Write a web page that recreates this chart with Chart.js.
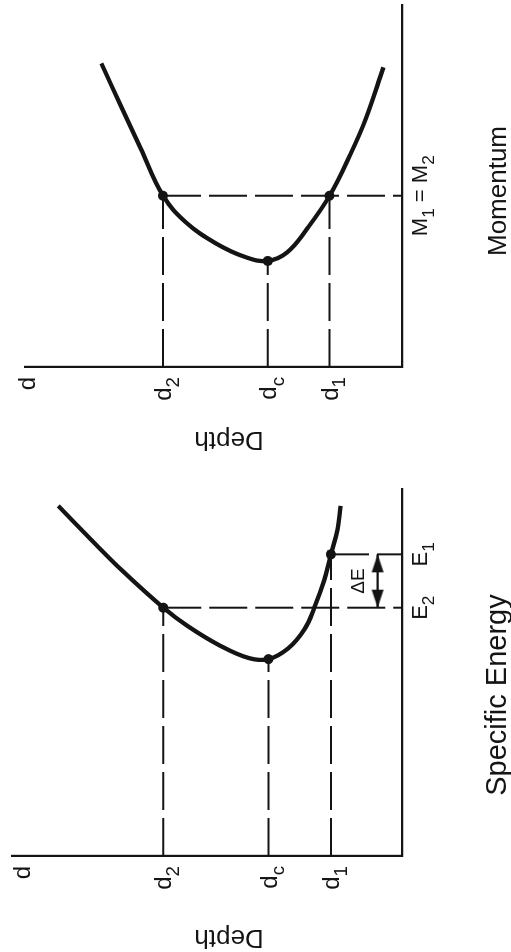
<!DOCTYPE html>
<html>
<head>
<meta charset="utf-8">
<script src="https://cdn.jsdelivr.net/npm/chart.js@4/dist/chart.umd.min.js"></script>
<style>
  html, body { margin: 0; padding: 0; background: #fff; overflow: hidden; }
  /* the figure is laid out upright, then turned a quarter turn counter-clockwise */
  #wrap {
    position: absolute; left: 0; top: 0; width: 952px; height: 511px;
    transform-origin: 0 0; transform: translate(0px, 952px) rotate(-90deg);
  }
  #energyChart { position: absolute; left: 0; top: 0; }
  #momentumChart { position: absolute; left: 476px; top: 0; }
</style>
</head>
<body>
<div id="wrap">
  <canvas id="energyChart" width="476" height="511"></canvas>
  <canvas id="momentumChart" width="476" height="511"></canvas>
</div>
<script>
// specific energy curve (depth, energy)
const energyDepth = [35.3, 32.0, 28.7, 24.5, 22.0, 18.7, 15.7, 13.7, 11.7, 10.0, 9.0, 8.0, 7.3, 6.6, 6.3];
const energyValues = [36.1, 32.7, 29.4, 25.6, 23.7, 21.7, 20.4, 20.3, 21.4, 23.4, 25.6, 28.4, 31.1, 33.7, 36.1];
const energyMarks = { d1: 7.3, dc: 13.7, d2: 24.5, E1: 31.1, Ec: 20.3, E2: 25.6 };
const energyDepthMax = 40;
const energyMax = 37.9;

// momentum curve (depth, momentum)
const momentumDepth = [30.7, 28.7, 26.7, 24.4, 22.0, 19.0, 16.0, 13.7, 11.7, 9.7, 7.4, 5.3, 3.7, 1.9];
const momentumValues = [31.2, 26.8, 22.5, 17.6, 14.8, 12.7, 11.3, 10.9, 11.8, 14.2, 17.6, 21.8, 25.5, 30.8];
const momentumMarks = { d1: 7.4, dc: 13.7, d2: 24.4, M: 17.6, Mc: 10.9 };
const momentumDepthMax = 38.5;
const momentumMax = 37.2;

// tick labels ("_" marks the next character as a subscript)
const energyDepthTicks = [[39, "d"], [energyMarks.d2, "d_2"], [energyMarks.dc, "d_c"], [energyMarks.d1, "d_1"]];
const energyTicks = [[energyMarks.E2, "E_2"], [energyMarks.E1, "E_1"]];
const momentumDepthTicks = [[38.3, "d"], [momentumMarks.d2, "d_2"], [momentumMarks.dc, "d_c"], [momentumMarks.d1, "d_1"]];
const momentumTicks = [[momentumMarks.M, "M_1 = M_2"]];
const deltaDepth = 2.5;

const INK = "#141414";
const FONT = "'Liberation Sans', Arial, Helvetica, sans-serif";
const DASH = [38, 8];

function pts(xs, ys) {
  return xs.map((x, i) => ({ x: x, y: ys[i] }));
}

function dashed(a, b) {
  return {
    data: [a, b], showLine: true, borderColor: INK, borderWidth: 2,
    borderDash: DASH, pointRadius: 0, tension: 0
  };
}

function dots(list) {
  return {
    data: list, showLine: false, pointRadius: 5,
    pointBackgroundColor: INK, pointBorderColor: INK, pointBorderWidth: 0
  };
}

// arrow head with its tip at the centre of the image, pointing up
function arrowHead() {
  const c = document.createElement("canvas");
  c.width = 40; c.height = 40;
  const g = c.getContext("2d");
  g.fillStyle = INK;
  g.beginPath();
  g.moveTo(20, 20);
  g.lineTo(14, 38);
  g.lineTo(26, 38);
  g.closePath();
  g.fill();
  return c;
}

function segs(str) {
  const out = [];
  let i = 0;
  while (i < str.length) {
    if (str[i] === "_") { out.push([str[i + 1], true]); i += 2; }
    else {
      let j = i;
      while (j < str.length && str[j] !== "_") j++;
      out.push([str.slice(i, j), false]);
      i = j;
    }
  }
  return out;
}

function drawSub(ctx, text, x, base, size, align) {
  const parts = segs(text);
  const sub = size * 0.78;
  let w = 0;
  parts.forEach(p => {
    ctx.font = (p[1] ? sub : size) + "px " + FONT;
    w += ctx.measureText(p[0]).width;
  });
  let cx = align === "right" ? x - w : align === "center" ? x - w / 2 : x;
  ctx.textAlign = "left";
  ctx.textBaseline = "alphabetic";
  parts.forEach(p => {
    ctx.font = (p[1] ? sub : size) + "px " + FONT;
    ctx.fillText(p[0], cx, p[1] ? base + size * 0.32 : base);
    cx += ctx.measureText(p[0]).width;
  });
}

function textPlugin(cfg) {
  return {
    id: "figureText",
    afterDraw(chart) {
      const ctx = chart.ctx;
      const xs = chart.scales.x, ys = chart.scales.y;
      const area = chart.chartArea;
      ctx.save();
      ctx.fillStyle = INK;
      cfg.depthTicks.forEach(t => {
        drawSub(ctx, t[1], area.left - 10, ys.getPixelForValue(t[0]) + 8, 24, "right");
      });
      cfg.valueTicks.forEach(t => {
        drawSub(ctx, t[1], xs.getPixelForValue(t[0]), area.bottom + 25, cfg.tickSize, "center");
      });
      // axis titles
      ctx.font = cfg.titleSize + "px " + FONT;
      ctx.textAlign = "center";
      ctx.textBaseline = "alphabetic";
      ctx.fillText(cfg.title, cfg.titleX, 506);
      ctx.save();
      ctx.translate(cfg.depthX, 229);
      ctx.rotate(-Math.PI / 2);
      ctx.font = "26px " + FONT;
      ctx.textBaseline = "middle";
      ctx.fillText("Depth", 0, 0);
      ctx.restore();
      if (cfg.extra) cfg.extra(ctx, xs, ys);
      ctx.restore();
    }
  };
}

function baseOptions(xMax, yMax, pad) {
  return {
    responsive: false,
    animation: false,
    layout: { padding: pad },
    plugins: { legend: { display: false }, tooltip: { enabled: false } },
    scales: {
      x: {
        type: "linear", min: 0, max: xMax,
        grid: { display: false }, ticks: { display: false },
        border: { display: true, color: INK, width: 2.2 }
      },
      y: {
        type: "linear", min: 0, max: yMax,
        grid: { display: false }, ticks: { display: false },
        border: { display: true, color: INK, width: 2.2 }
      }
    }
  };
}

const em = energyMarks;
const head = arrowHead();

new Chart(document.getElementById("energyChart"), {
  type: "scatter",
  data: {
    datasets: [
      dashed({ x: 0, y: em.d2 }, { x: em.E2, y: em.d2 }),
      dashed({ x: 0, y: em.dc }, { x: em.Ec, y: em.dc }),
      dashed({ x: 0, y: em.d1 }, { x: em.E1, y: em.d1 }),
      dashed({ x: em.E2, y: em.d2 }, { x: em.E2, y: 0 }),
      dashed({ x: em.E1, y: em.d1 }, { x: em.E1, y: 0 }),
      {
        data: [{ x: em.E2, y: deltaDepth }, { x: em.E1, y: deltaDepth }],
        showLine: true, borderColor: INK, borderWidth: 2.4, tension: 0,
        pointStyle: head, pointRadius: 10, pointRotation: [-90, 90]
      },
      {
        data: pts(energyValues, energyDepth), showLine: true,
        borderColor: INK, borderWidth: 4.3, tension: 0.4, pointRadius: 0
      },
      dots([{ x: em.E2, y: em.d2 }, { x: em.Ec, y: em.dc }, { x: em.E1, y: em.d1 }])
    ]
  },
  options: baseOptions(energyMax, energyDepthMax, { left: 88, right: 9, top: 10, bottom: 101 }),
  plugins: [textPlugin({
    depthTicks: energyDepthTicks, valueTicks: energyTicks, tickSize: 22,
    title: "Specific Energy", titleSize: 29, titleX: 257, depthX: 15,
    extra(ctx, xs, ys) {
      ctx.font = "19px " + FONT;
      ctx.textAlign = "center";
      ctx.textBaseline = "alphabetic";
      ctx.fillText("\u0394E", (xs.getPixelForValue(em.E1) + xs.getPixelForValue(em.E2)) / 2, ys.getPixelForValue(deltaDepth) - 14);
    }
  })]
});

const mm = momentumMarks;

new Chart(document.getElementById("momentumChart"), {
  type: "scatter",
  data: {
    datasets: [
      dashed({ x: 0, y: mm.d2 }, { x: mm.M, y: mm.d2 }),
      dashed({ x: 0, y: mm.dc }, { x: mm.Mc, y: mm.dc }),
      dashed({ x: 0, y: mm.d1 }, { x: mm.M, y: mm.d1 }),
      dashed({ x: mm.M, y: mm.d2 }, { x: mm.M, y: 0 }),
      {
        data: pts(momentumValues, momentumDepth), showLine: true,
        borderColor: INK, borderWidth: 4.3, tension: 0.4, pointRadius: 0
      },
      dots([{ x: mm.M, y: mm.d2 }, { x: mm.Mc, y: mm.dc }, { x: mm.M, y: mm.d1 }])
    ]
  },
  options: baseOptions(momentumMax, momentumDepthMax, { left: 101, right: 3, top: 25, bottom: 101 }),
  plugins: [textPlugin({
    depthTicks: momentumDepthTicks, valueTicks: momentumTicks, tickSize: 22,
    title: "Momentum", titleSize: 26, titleX: 285, depthX: 37
  })]
});
</script>
</body>
</html>
